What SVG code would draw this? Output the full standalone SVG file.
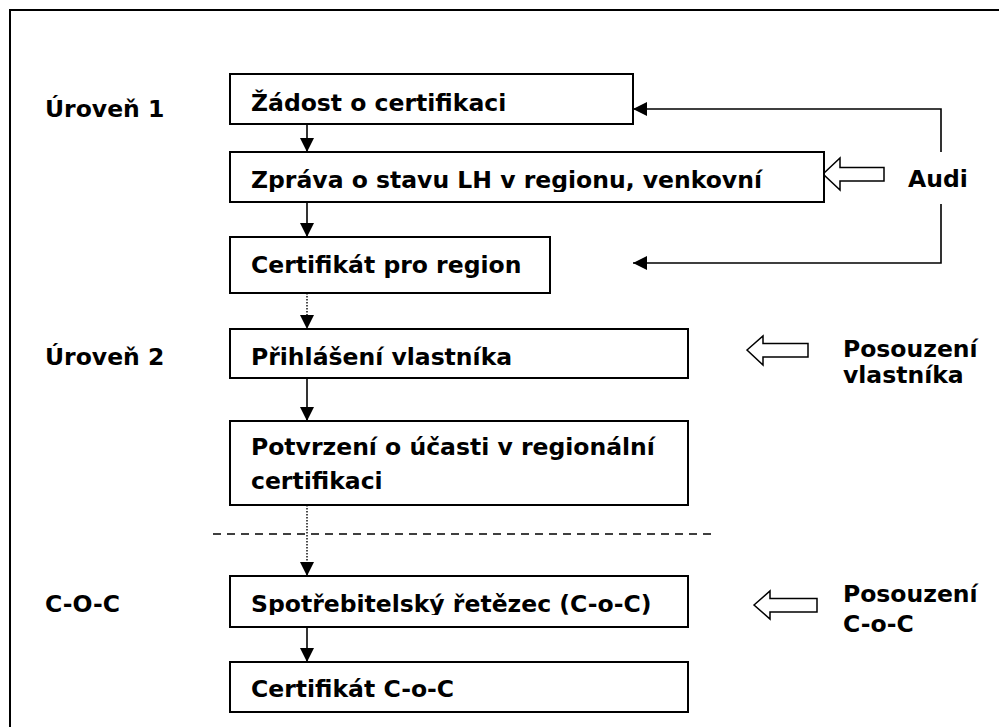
<svg xmlns="http://www.w3.org/2000/svg" width="999" height="727" viewBox="0 0 999 727">
<defs>
<style>
text{font-family:"DejaVu Sans",Verdana,sans-serif;font-weight:bold;font-size:23.5px;fill:#000}
.box{fill:#fff;stroke:#000;stroke-width:2}
.ln{fill:none;stroke:#000;stroke-width:1.6}
.dot{fill:none;stroke:#000;stroke-width:1.4;stroke-dasharray:1.5 1.5}
.dash{fill:none;stroke:#000;stroke-width:1.4;stroke-dasharray:8 6}
.hol{fill:#fff;stroke:#000;stroke-width:1.5}
</style>
<marker id="ah" viewBox="0 0 14 14" refX="14" refY="7" markerWidth="14" markerHeight="14" markerUnits="userSpaceOnUse" orient="auto">
<path d="M0,0 L14,7 L0,14 Z" fill="#000"/>
</marker>
<clipPath id="c2"><rect x="230" y="152" width="594" height="40"/></clipPath>
<clipPath id="c6"><rect x="230" y="576" width="458" height="39"/></clipPath>
</defs>
<rect x="10" y="10" width="1010" height="800" fill="none" stroke="#000" stroke-width="2"/>
<g id="labels">
<text x="45" y="117">Úroveň 1</text>
<text x="45" y="365">Úroveň 2</text>
<text x="45" y="612">C-O-C</text>
</g>
<g id="connectors">
<line class="ln" x1="307" y1="124" x2="307" y2="152" marker-end="url(#ah)"/>
<line class="ln" x1="307" y1="202" x2="307" y2="237" marker-end="url(#ah)"/>
<line class="dot" x1="307" y1="293" x2="307" y2="329" marker-end="url(#ah)"/>
<line class="ln" x1="307" y1="378" x2="307" y2="421" marker-end="url(#ah)"/>
<line class="dot" x1="307" y1="505" x2="307" y2="576" marker-end="url(#ah)"/>
<line class="ln" x1="307" y1="627" x2="307" y2="662" marker-end="url(#ah)"/>
<polyline class="ln" points="941,152 941,109 633,109" marker-end="url(#ah)"/>
<polyline class="ln" points="941,204 941,263 633,263" marker-end="url(#ah)"/>
<line class="dash" x1="213" y1="534" x2="712" y2="534"/>
<polygon class="hol" points="823,174 840,158 840,167.5 884,167.5 884,181 840,181 840,190"/>
<polygon class="hol" points="747,350 763,336 763,343.5 808,343.5 808,357 763,357 763,365"/>
<polygon class="hol" points="754,605 770,591 770,598.5 817,598.5 817,612 770,612 770,619"/>
</g>
<g id="n1"><rect class="box" x="230" y="74" width="403" height="50"/><text x="251" y="111">Žádost o certifikaci</text></g>
<g id="n2"><rect class="box" x="230" y="152" width="594" height="50"/><text x="251" y="188" clip-path="url(#c2)">Zpráva o stavu LH v regionu, venkovní</text></g>
<g id="n3"><rect class="box" x="230" y="237" width="320" height="56"/><text x="251" y="273">Certifikát pro region</text></g>
<g id="n4"><rect class="box" x="230" y="329" width="458" height="49"/><text x="251" y="365">Přihlášení vlastníka</text></g>
<g id="n5"><rect class="box" x="230" y="421" width="458" height="84"/><text x="251" y="455">Potvrzení o účasti v regionální</text><text x="251" y="489">certifikaci</text></g>
<g id="n6"><rect class="box" x="230" y="576" width="458" height="51"/><text x="251" y="612" clip-path="url(#c6)">Spotřebitelský řetězec (C-o-C)</text></g>
<g id="n7"><rect class="box" x="230" y="662" width="458" height="50"/><text x="251" y="697">Certifikát C-o-C</text></g>
<g id="audi"><text x="908" y="187">Audi</text></g>
<g id="posouzeni1"><text x="843" y="357">Posouzení</text><text x="843" y="383">vlastníka</text></g>
<g id="posouzeni2"><text x="843" y="602">Posouzení</text><text x="843" y="632">C-o-C</text></g>
</svg>
